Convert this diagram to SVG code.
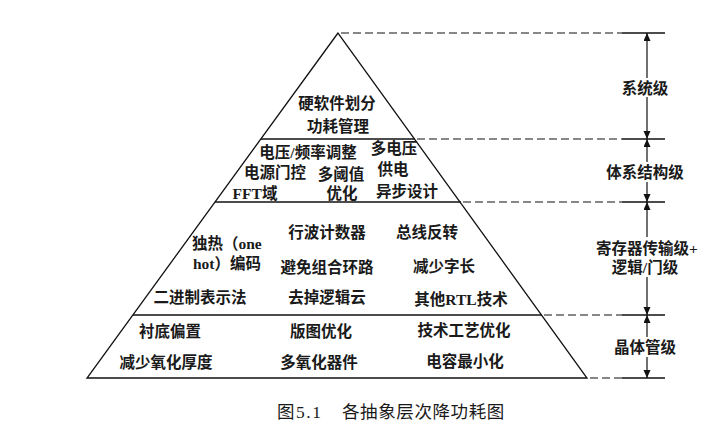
<svg xmlns="http://www.w3.org/2000/svg" width="721" height="430" viewBox="0 0 721 430">
<defs>
<marker id="ah" markerUnits="userSpaceOnUse" markerWidth="9" markerHeight="8" refX="8" refY="3.5" orient="auto">
<path d="M0,0 L8,3.5 L0,7 z" fill="#111"/>
</marker>
<style>
.t{font-family:"Liberation Serif","Noto Sans CJK SC",serif;font-size:15.5px;font-weight:bold;fill:#1a1a1a;text-anchor:middle}
.s{text-anchor:start}
.cap{font-family:"Liberation Serif","Noto Sans CJK SC",serif;font-size:17.5px;fill:#1a1a1a}
.ln{stroke:#111;stroke-width:1.3;fill:none}
.ds{stroke:#111;stroke-width:1.2;stroke-dasharray:8 4;fill:none}
.ar{stroke:#111;stroke-width:1.2;marker-end:url(#ah)}
</style>
</defs>
<rect width="721" height="430" fill="#fff"/>
<g id="connectors">
<path class="ln" d="M338,33 L87,378 L587,378 Z"/>
<line class="ln" x1="261" y1="139" x2="415" y2="139"/>
<line class="ln" x1="215" y1="202" x2="461" y2="202"/>
<line class="ln" x1="133" y1="315" x2="542" y2="315"/>
<line class="ds" x1="341" y1="33" x2="622" y2="33"/>
<line class="ds" x1="417" y1="139" x2="622" y2="139"/>
<line class="ds" x1="463" y1="202" x2="622" y2="202"/>
<line class="ds" x1="544" y1="315" x2="622" y2="315"/>
<line class="ds" x1="590" y1="378" x2="622" y2="378"/>
<line class="ln" x1="622" y1="33" x2="665" y2="33"/>
<line class="ln" x1="622" y1="139" x2="665" y2="139"/>
<line class="ln" x1="622" y1="202" x2="665" y2="202"/>
<line class="ln" x1="622" y1="315" x2="665" y2="315"/>
<line class="ln" x1="622" y1="378" x2="665" y2="378"/>
<line class="ar" x1="647" y1="78" x2="647" y2="33"/>
<line class="ar" x1="647" y1="97" x2="647" y2="139"/>
<line class="ar" x1="647" y1="162" x2="647" y2="139"/>
<line class="ar" x1="647" y1="182" x2="647" y2="202"/>
<line class="ar" x1="647" y1="237" x2="647" y2="202"/>
<line class="ar" x1="647" y1="277" x2="647" y2="315"/>
<line class="ar" x1="647" y1="337" x2="647" y2="315"/>
<line class="ar" x1="647" y1="357" x2="647" y2="378"/>
</g>
<g id="system-level">
<text class="t" x="337" y="108.5">硬软件划分</text>
<text class="t" x="338" y="131.5">功耗管理</text>
</g>
<g id="architecture-level">
<text class="t" x="308" y="157.5">电压/频率调整</text>
<text class="t" x="394" y="153.5">多电压</text>
<text class="t" x="275" y="177.5">电源门控</text>
<text class="t" x="341" y="179.5">多阈值</text>
<text class="t" x="393" y="174.5">供电</text>
<text class="t" x="255" y="198.5">FFT域</text>
<text class="t" x="342" y="198.5">优化</text>
<text class="t" x="407" y="196.5">异步设计</text>
</g>
<g id="rtl-level">
<text class="t s" x="192" y="248.5">独热（one</text>
<text class="t s" x="193" y="268.5">hot）编码</text>
<text class="t" x="327" y="237.5">行波计数器</text>
<text class="t" x="327" y="272.5">避免组合环路</text>
<text class="t" x="200" y="302.5">二进制表示法</text>
<text class="t" x="327" y="302.5">去掉逻辑云</text>
<text class="t" x="427" y="237.5">总线反转</text>
<text class="t" x="444" y="271.5">减少字长</text>
<text class="t" x="461" y="304.5">其他RTL技术</text>
</g>
<g id="transistor-level">
<text class="t" x="170" y="336.5">衬底偏置</text>
<text class="t" x="166" y="367.5">减少氧化厚度</text>
<text class="t" x="321" y="336.5">版图优化</text>
<text class="t" x="319" y="367.5">多氧化器件</text>
<text class="t" x="464" y="335.5">技术工艺优化</text>
<text class="t" x="465" y="366.5">电容最小化</text>
</g>
<g id="level-labels">
<text class="t" x="645" y="93.5">系统级</text>
<text class="t" x="645" y="177.5">体系结构级</text>
<text class="t" x="647" y="253.5">寄存器传输级+</text>
<text class="t" x="645" y="272.5">逻辑/门级</text>
<text class="t" x="645" y="352.5">晶体管级</text>
</g>
<g id="caption">
<text class="cap" x="277" y="418">图</text>
<text class="cap" x="296" y="418" letter-spacing="1.5">5.1</text>
<text class="cap" x="342" y="418" letter-spacing="0.6">各抽象层次降功耗图</text>
</g>
</svg>
